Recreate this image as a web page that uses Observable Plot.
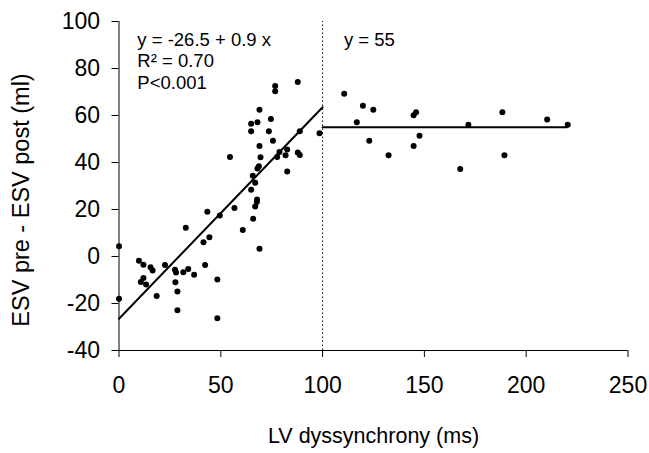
<!DOCTYPE html>
<html>
<head>
<meta charset="utf-8">
<script src="https://cdn.jsdelivr.net/npm/d3@7"></script>
<script src="https://cdn.jsdelivr.net/npm/@observablehq/plot@0.6"></script>
<style>
  html, body { margin: 0; padding: 0; background: #fff; }
  svg { display: block; }
</style>
</head>
<body>
<div id="chart"></div>
<script>
// LV dyssynchrony (ms) for each patient
const dyssynchrony = [
  0, 0,
  9.8, 12, 15.5, 16.5, 22.6, 27.5, 28, 31.6, 34, 36.9, 42.3,
  12, 10.7, 13.3, 27.7, 48.3, 28.7, 18.5, 28.7, 48.3,
  32.8, 41.5, 44.4, 43.4, 49.5, 54.5,
  87.8, 76.7, 76.7, 69, 74.6, 64.9, 68, 64.9, 73.6, 88.8, 98.5, 75.6, 69,
  69.5, 78.8, 82.6, 77.7, 81.8, 87.8, 88.8, 68.7, 68, 82.6, 65.7, 66.9,
  64.9, 67.8, 67.7, 66.9, 56.7, 65.9, 60.8, 69,
  110.6, 119.8, 124.9, 116.8, 122.9, 132.4, 144.7, 145.9, 147.6, 144.7,
  167.6, 171.6, 188.3, 189.3, 210.3, 220.4
];
// ESV pre - ESV post (ml) for each patient
const esvChange = [
  4.4, -18,
  -1.8, -3.5, -4.6, -6, -3.6, -5.6, -6.8, -6.7, -5.3, -7.8, -3.6,
  -9.1, -10.9, -11.9, -11, -9.8, -14.9, -16.8, -22.9, -26.3,
  12.2, 6.1, 8.2, 19, 17.5, 42.3,
  74.3, 72.6, 70.3, 62.5, 58.5, 56.5, 57.1, 53.3, 53.3, 53.3, 52.4, 49.3, 47,
  42.2, 44.5, 45.5, 42.3, 43.1, 44.3, 43.2, 38.4, 37.5, 36.2, 34.4, 31.4,
  28.4, 24.3, 23.2, 21.3, 20.6, 16.1, 11.3, 3.3,
  69.3, 64.2, 62.4, 57.1, 49.3, 43.1, 60.1, 61.4, 51.4, 47,
  37.2, 56.1, 61.4, 43.1, 58.3, 56.1
];
// Fitted models
const regressionX = [0, 100];
const intercept = -26.5, slope = 0.9;
const plateauX = [100, 220];
const plateauY = 55;
const cutoff = 100;
// Axis ticks
const xTicks = [0, 50, 100, 150, 200, 250];
const yTicks = [-40, -20, 0, 20, 40, 60, 80, 100];
// Labels
const xTitle = "LV dyssynchrony (ms)";
const yTitle = "ESV pre - ESV post (ml)";
const leftNotes = ["y = -26.5 + 0.9 x", "R\u00b2 = 0.70", "P<0.001"];
const leftNoteY = [92, 83, 74];
const rightNote = "y = 55";

const points = dyssynchrony.map((x, i) => ({x, y: esvChange[i]}));
const regLine = regressionX.map(x => ({x, y: intercept + slope * x}));
const flatLine = plateauX.map(x => ({x, y: plateauY}));
const notes = leftNotes.map((t, i) => ({t, y: leftNoteY[i]}));

const font = "'Liberation Sans', Arial, Helvetica, sans-serif";

const chart = Plot.plot({
  width: 649,
  height: 453,
  marginLeft: 118.5,
  marginRight: 21.5,
  marginTop: 21,
  marginBottom: 103,
  style: {fontFamily: font, color: "black", background: "white", overflow: "visible"},
  x: {domain: [0, 250]},
  y: {domain: [-40, 100]},
  marks: [
    Plot.axisX({ticks: xTicks, tickFormat: d => String(d), tickSize: 7, tickPadding: 19, fontSize: 23, label: null, stroke: "black", fill: "black"}),
    Plot.axisY({ticks: yTicks, tickFormat: d => String(d), tickSize: 7, tickPadding: 12, fontSize: 23, label: null, stroke: "black", fill: "black"}),
    Plot.ruleX([0], {y1: -40, y2: 100, stroke: "black", strokeWidth: 1}),
    Plot.ruleY([-40], {x1: 0, x2: 250, stroke: "black", strokeWidth: 1}),
    Plot.ruleX([cutoff], {y1: -40, y2: 100, stroke: "black", strokeWidth: 1, strokeDasharray: "1.5,2.5"}),
    Plot.line(regLine, {x: "x", y: "y", stroke: "black", strokeWidth: 2}),
    Plot.line(flatLine, {x: "x", y: "y", stroke: "black", strokeWidth: 2}),
    Plot.dot(points, {x: "x", y: "y", r: 3, fill: "black", stroke: null}),
    Plot.text(notes, {x: 9, y: "y", text: "t", textAnchor: "start", lineAnchor: "middle", fontSize: 18.5, fill: "black"}),
    Plot.text([rightNote], {x: 110.5, y: 92, text: d => d, textAnchor: "start", lineAnchor: "middle", fontSize: 18.5, fill: "black"}),
    Plot.text([xTitle], {frameAnchor: "bottom", dy: 86, text: d => d, textAnchor: "middle", lineAnchor: "middle", fontSize: 21.5, fill: "black"}),
    Plot.text([yTitle], {frameAnchor: "left", dx: -98, dy: 14, rotate: -90, text: d => d, textAnchor: "middle", lineAnchor: "middle", fontSize: 23.5, fill: "black"})
  ]
});
document.getElementById("chart").appendChild(chart);
</script>
</body>
</html>
